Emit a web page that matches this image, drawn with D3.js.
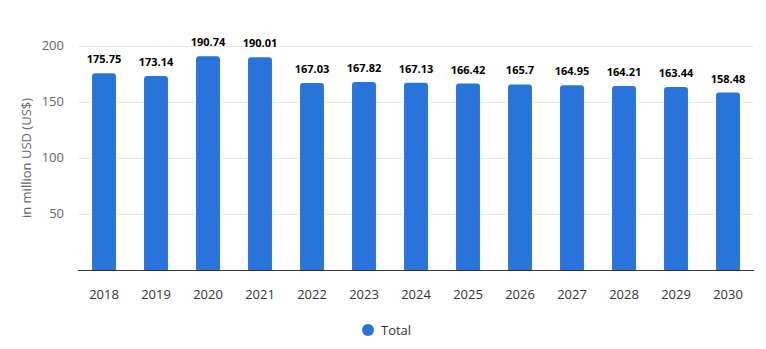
<!DOCTYPE html>
<html><head><meta charset="utf-8">
<script src="https://cdn.jsdelivr.net/npm/d3@7"></script>
<style>body{margin:0;background:#fff;font-family:"Open Sans","Noto Sans",sans-serif;}</style>
</head><body><svg id="c" width="766" height="349"></svg>
<script>
const years = ["2018","2019","2020","2021","2022","2023","2024","2025","2026","2027","2028","2029","2030"];
const totals = [175.75,173.14,190.74,190.01,167.03,167.82,167.13,166.42,165.7,164.95,164.21,163.44,158.48];
const valueLabels = ["175.75","173.14","190.74","190.01","167.03","167.82","167.13","166.42","165.7","164.95","164.21","163.44","158.48"];
const yTicks = [50,100,150,200];
const seriesName = "Total";

(function(){
const svg = d3.select("#c");
const pL = 78, pR = 754, pT = 46, pB = 270;
const x = d3.scaleBand().domain(years).range([pL, pR]).paddingInner(0.54).paddingOuter(0.27);
const y = d3.scaleLinear().domain([0,200]).range([pB, pT]);
const color = "#2874db";

svg.append("g").selectAll("line").data(yTicks).join("line")
  .attr("x1", pL).attr("x2", pR).attr("y1", d=>y(d)+0.5).attr("y2", d=>y(d)+0.5)
  .attr("stroke", "#e6e6e6");

svg.append("g").selectAll("text").data(yTicks).join("text")
  .attr("x", 64).attr("y", d=>y(d)+4).attr("text-anchor","end")
  .attr("font-size", 13).attr("fill","#666").text(d=>d);

svg.append("text").attr("transform", `translate(31,${(pT+pB)/2}) rotate(-90)`)
  .attr("text-anchor","middle").attr("font-size",13).attr("fill","#666").text("in million USD (US$)");

const r = 3;
svg.append("g").selectAll("path").data(years).join("path")
  .attr("fill", color)
  .attr("d", (d,i)=>{
    const x0 = x(d), w = x.bandwidth(), y0 = y(totals[i]), y1 = y(0);
    return `M${x0},${y1}V${y0+r}Q${x0},${y0} ${x0+r},${y0}H${x0+w-r}Q${x0+w},${y0} ${x0+w},${y0+r}V${y1}Z`;
  });

svg.append("g").selectAll("text").data(years).join("text")
  .attr("x", d=>x(d)+x.bandwidth()/2).attr("y",(d,i)=>y(totals[i])-10)
  .attr("text-anchor","middle").attr("font-size",11).attr("font-weight","bold").attr("fill","#000")
  .text((d,i)=>valueLabels[i]);

svg.append("line").attr("x1",pL).attr("x2",pR).attr("y1",pB+0.5).attr("y2",pB+0.5)
  .attr("stroke","#333").attr("stroke-width",1);

svg.append("g").selectAll("text").data(years).join("text")
  .attr("x", d=>x(d)+x.bandwidth()/2).attr("y", 299).attr("text-anchor","middle")
  .attr("font-size",13).attr("fill","#333").text(d=>d);

const lg = svg.append("g");
lg.append("circle").attr("cx",368).attr("cy",330).attr("r",6).attr("fill",color);
lg.append("text").attr("x",381).attr("y",334.5).attr("font-size",13).attr("fill","#333").text(seriesName);
})();
</script></body></html>
